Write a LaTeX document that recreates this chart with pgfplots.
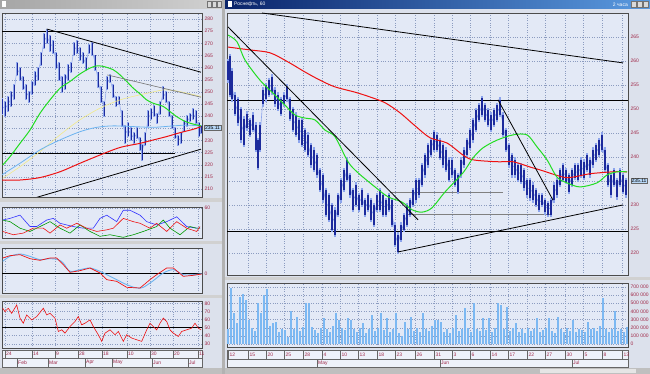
\documentclass[border=0pt]{standalone}
\usepackage{pgfplots}
\pgfplotsset{compat=1.18}
\usepackage{pgfplotstable}
\usepackage{fontspec}
\setmainfont{Liberation Sans}
\definecolor{bgc}{HTML}{E3E9F6}
\definecolor{chrome}{HTML}{DCE1EC}
\definecolor{gridc}{HTML}{8C9CC0}
\definecolor{pricec}{HTML}{1C2A9C}
\definecolor{pricelt}{HTML}{8CA4EC}
\definecolor{lblc}{HTML}{A02848}
\definecolor{grn}{HTML}{22DD22}
\definecolor{redc}{HTML}{EE1111}
\definecolor{volc}{HTML}{7CB8F2}
\definecolor{ltblue}{HTML}{6CB4F0}
\definecolor{yel}{HTML}{F2EA88}
\definecolor{titleA}{HTML}{0A246A}
\definecolor{titleB}{HTML}{5A9AE0}
\definecolor{boxc}{HTML}{B8D8F8}

\pgfplotsset{
  panel/.style={
    scale only axis, anchor=south west, clip=true,
    axis background/.style={fill=bgc},
    axis line style={draw=black!70, line width=0.6pt},
    xticklabels={},
    major tick length=0pt,
    grid=major,
    major grid style={draw=gridc, dotted, line width=0.4pt},
    yticklabel pos=right,
    yticklabel style={font=\fontsize{5}{6}\selectfont, text=lblc, xshift=-1pt},
    /pgf/number format/assume math mode=true,
  },
  ma/.style={line width=1pt, smooth},
  tl/.style={black, line width=0.8pt},
  hl/.style 2 args={draw=none, mark=none, error bars/.cd, y dir=both, y explicit, error mark=none,
    error bar style={line width=#1, draw=#2, solid}},
}

\pgfplotstableread{
x lo hi
228 256 260
230 253 261
232 252 258
235 249 253
238 247 252
241 243.5 250
244 242.5 248
247 246 249
250 244.6 247.7
253 245.6 248.8
256 241.5 246.7
258 237.7 243.5
260 241.5 246.7
263 251 254
266 252 255
269 253 256
272 253.5 256.7
275 251 254
278 250 253
281 249 252
284 251 253
287 252 254.6
290 248 252
293 245.6 250
296 244.6 248.8
299 243.5 247.7
302 242.5 247.7
305 241.5 245.6
308 240.4 244.6
311 238.3 242.5
314 237.3 241.5
317 236.2 240.4
320 233.1 237.3
323 231 236.2
326 227.9 233.1
329 226.9 232
332 224.8 230
335 223.8 229
338 227.9 232
341 231 235.2
344 233.1 237.3
347 235.2 239.4
350 232 236.2
353 229 233.1
356 230 234.2
359 229 232
362 230 233.1
365 227.9 231
368 229 232
371 226.9 231
374 225.9 230
377 229 232
380 229 233.1
383 227.9 232
386 227.9 231
389 229 232
392 225.9 231
395 221.7 225.9
398 220.2 223.8
401 222.7 225.9
404 224.8 227.9
407 225.9 230
410 227.9 231
413 230 233.1
416 231 235.2
419 232 235.2
422 234.2 238.3
425 236.2 240.4
428 238.3 242.5
431 240.4 243.5
434 241.5 245.2
437 241.5 244.6
440 239.8 243.5
443 238.3 242.5
446 237.3 241.5
449 235.2 239.4
452 236.2 239.4
455 234.2 237.3
458 232.7 236.2
461 236.2 239.4
464 238.3 241.5
467 240.4 243.5
470 241.9 245.6
473 243.5 247.7
476 245.6 249.8
479 247.7 250.8
482 248.8 252.3
485 247.7 250.8
488 246.7 249.8
491 245.6 248.8
494 246.7 249.8
497 247.7 250.8
500 248.8 251.9
503 244.6 248.8
506 241.5 245.6
509 238.3 242.5
512 236.2 240.4
515 236.2 239.4
518 235.2 238.3
521 234.8 238.3
524 233.5 237.3
527 232 235.2
530 231.4 235.2
533 231 234.2
536 230 233.1
539 229 232
542 230 232
545 228.5 231
548 227.9 230.4
551 227.9 231
554 231 234.2
557 232 235.2
560 234.2 237.3
563 235.2 238.3
566 234.8 237.3
569 232.7 236.2
572 234.2 237.3
575 235.6 238.3
578 235.2 238.3
581 236.2 239.4
584 235.6 239
587 237.3 240.4
590 236.2 239.4
593 238.3 241.5
596 239.4 242.5
599 240.4 243.5
602 241.5 244.6
605 237.3 241.5
608 234.2 238.3
611 232 236.2
614 234.2 237.3
617 231.6 235.2
620 234.2 237.3
623 232.7 236.2
626 232 235.2
}\rprice

\pgfplotstableread{
x lo hi
2 241 247
5 240 246
8 242 248
11 244 250
14 247 253
17 257 262
20 255 260
23 251 256
26 247 253
29 246 250
32 249 254
35 253 258
38 255 260
41 261 266
44 268 274
47 270 275.6
50 267 273
53 266 271
56 260 266
59 255 262
62 250 256
65 251 257
68 255 261
71 258 262
74 265 270
77 266 271
80 263 268
83 262 266
86 259 264
89 266 269.5
92 265 270
95 259 265
98 252 258
101 246 252
104 240 246
107 251 256
110 254 257
113 248 253
116 244 248
119 245 248
122 236 242
125 229 236
128 232 237
131 230 235
134 229 233
137 231 235
140 226 231
142 222 228
145 228 233
148 236 242
151 239 243
154 240 244
157 237 241
160 241 246
163 247 252
166 246 250
169 240 246
172 235 240
175 231 235
178 228 232
181 229 233
184 234 238
187 236 240
190 238 241
193 239 243
196 237 242
199 232 237
201 233 236
}\lprice

\pgfplotstableread{
x v
228 180
231 684
234 377
237 260
240 580
243 620
246 540
249 295
252 200
255 160
258 500
261 377
264 600
267 670
270 220
273 254
276 270
279 150
282 180
285 170
288 80
291 400
294 190
297 336
300 160
303 210
306 500
309 500
312 210
315 170
318 130
321 200
324 315
327 180
330 150
333 220
336 377
339 295
342 200
345 170
348 315
351 295
354 180
357 150
360 200
363 254
366 130
369 180
372 357
375 160
378 200
381 377
384 170
387 315
390 150
393 190
396 377
399 140
402 100
405 270
408 180
411 336
414 160
417 200
420 150
423 377
426 190
429 160
432 220
435 295
438 295
441 270
444 150
447 180
450 140
453 200
456 357
459 160
462 180
465 438
468 200
471 150
474 500
477 190
480 160
483 315
486 170
489 315
492 150
495 200
498 500
501 480
504 180
507 460
510 160
513 200
516 254
519 150
522 180
525 140
528 200
531 160
534 190
537 315
540 150
543 170
546 200
549 315
552 160
555 140
558 336
561 180
564 150
567 200
570 160
573 295
576 150
579 190
582 170
585 150
588 270
591 180
594 200
597 160
600 220
603 560
606 190
609 150
612 180
615 400
618 160
621 190
624 150
627 210
}\vol

\begin{document}
\begin{tikzpicture}[x=1pt,y=1pt]
\useasboundingbox (0,0) rectangle (650,374);
\fill[chrome] (0,0) rectangle (650,374);
% window separator
\fill[black!30] (222,0) rectangle (225,374);
% title bars
\shade[left color=black!35, right color=black!18] (0,365) rectangle (222,374);
\foreach \b in {207,212,217} {\fill[black!15] (\b,366.5) rectangle (\b+4,372.5); \draw[black!55,line width=0.3pt] (\b,366.5) rectangle (\b+4,372.5);}
\fill[white] (1.5,366.5) rectangle (6,372.5);
\shade[left color=titleA, right color=titleB] (225,365) rectangle (650,374);
\fill[white] (227.5,366.5) rectangle (232,372.5);
\node[anchor=west, text=white, inner sep=0pt, font=\fontsize{5}{6}\selectfont] at (234,369.5) {Роснефть, 60};
\node[anchor=east, text=white, inner sep=0pt, font=\fontsize{5}{6}\selectfont] at (628,369.5) {2 часа};
\foreach \b in {631,637,643} {\fill[black!15] (\b,366.5) rectangle (\b+5,372.5); \draw[black!55,line width=0.3pt] (\b,366.5) rectangle (\b+5,372.5);}
% panel separators
\fill[black!18] (0,172) rectangle (222,176);
\fill[black!18] (0,130) rectangle (222,133);
\fill[black!18] (0,76) rectangle (222,79);
\fill[black!18] (225,94) rectangle (650,97);
% scrollbars
\fill[black!25] (0,0) rectangle (222,6);
\fill[black!25] (225,0) rectangle (650,6);
\fill[black!10] (540,1) rectangle (636,5);

% ===== Left price chart =====
\begin{axis}[panel, at={(2pt,177pt)}, width=200pt, height=184pt,
  xmin=2, xmax=202, ymin=206.7, ymax=282.5,
  xtick={5,32,55,78,102,127,150,173,198}, ytick={210,215,...,280},
  yticklabels={210,215,220,225,230,,240,245,250,255,260,265,270,275,280}]
\addplot[tl] coordinates {(2,275) (202,275)};
\addplot[tl] coordinates {(2,224.5) (175,224.5)};
\addplot[hl={2.4pt}{pricelt}] table[x=x, y expr={(\thisrow{lo}+\thisrow{hi})/2}, y error expr={(\thisrow{hi}-\thisrow{lo})/2+0.4}] {\lprice};
\addplot[pricelt, line width=0.5pt] table[x=x, y expr={(\thisrow{lo}+\thisrow{hi})/2}] {\lprice};
\addplot[hl={1pt}{pricec}] table[x=x, y expr={(\thisrow{lo}+\thisrow{hi})/2}, y error expr={(\thisrow{hi}-\thisrow{lo})/2}] {\lprice};
\addplot[yel, line width=0.6pt, smooth] coordinates {(2.7,214.4) (20,219.2) (40,225.4) (60,232.3) (80,238.5) (100,243.3) (120,246.7) (140,248.8) (153.3,250) (163.3,250.8) (173.3,250.6) (186.7,249.5) (201,248.1)};
\addplot[ltblue, line width=0.8pt, smooth] coordinates {(1.7,215.8) (20,220.6) (40,226.1) (60,230.2) (80,233.6) (96.7,235.4) (113.3,236) (133.3,235.7) (153.3,235.4) (173.3,236) (186.7,236.3) (201,236)};
\addplot[redc, ma] coordinates {(1.7,213.7) (20,213.7) (40,214.7) (60,217.1) (80,220.6) (100,224) (120,227.1) (140,228.8) (153.3,230.2) (166.7,231.6) (180,233.2) (193.3,234.6) (201,235.7)};
\addplot[grn, ma] coordinates {(2.7,219.9) (10,223.3) (20,228.8) (30,234.3) (40,241.2) (50,246.7) (60,251.5) (70,254.3) (80,257.4) (90,259.8) (96.7,260.7) (103.3,260.5) (113.3,259.1) (120,257) (126.7,254.3) (133.3,251.5) (140,249.2) (146.7,246.7) (153.3,245.3) (163.3,244) (170,241.9) (176.7,239.8) (183.3,238.2) (190,237.1) (196.7,236.4) (201,236)};
\addplot[tl] coordinates {(46.7,275.9) (201,258.1)};
\addplot[black!55, line width=0.6pt] coordinates {(107.3,257.0) (201,247.8)};
\addplot[tl] coordinates {(33,206.1) (201,226.4)};
\end{axis}
\node[fill=boxc, draw=black!60, line width=0.3pt, inner sep=0.8pt, font=\fontsize{5}{6}\selectfont] at (212.5,246.3) {235.11};

% ===== Left indicator 1 =====
\begin{axis}[panel, at={(2pt,136pt)}, width=200pt, height=31pt,
  xmin=2, xmax=202, ymin=0, ymax=62, xtick={5,32,55,78,102,127,150,173,198}, ytick={60}, yticklabels={60}]
\addplot[blue!80, line width=0.6pt] coordinates {(2.7,35.9) (10,39.2) (20,45.7) (30,22.9) (36.7,22.9) (46.7,35.9) (53.3,39.2) (60,29.4) (66.7,26.1) (73.3,22.9) (83.3,19.6) (93.3,19.6) (100,39.2) (106.7,45.7) (116.7,32.7) (123.3,55.5) (130,55.5) (140,45.7) (146.7,32.7) (156.7,26.1) (166.7,32.7) (176.7,42.4) (186.7,22.9) (196.7,19.6) (200,19.6)};
\addplot[green!60!black, line width=0.6pt] coordinates {(2.7,35.9) (10,32.7) (20,19.6) (30,13.1) (40,22.9) (50,32.7) (60,19.6) (70,9.8) (80,26.1) (90,13.1) (100,3.3) (110,6.5) (123.3,1.3) (133.3,6.5) (143.3,13.1) (156.7,22.9) (163.3,35.9) (170,19.6) (180,6.5) (190,22.9) (196.7,19.6) (200,19.6)};
\addplot[redc, line width=0.6pt] coordinates {(2.7,13.1) (13.3,6.5) (23.3,9.8) (33.3,19.6) (43.3,19.6) (50,9.8) (60,26.1) (66.7,19.6) (76.7,29.4) (86.7,19.6) (96.7,13.1) (106.7,16.3) (113.3,19.6) (123.3,39.2) (133.3,32.7) (140,29.4) (150,19.6) (156.7,29.4) (166.7,13.1) (176.7,32.7) (186.7,19.6) (196.7,13.1) (200,22.9)};
\end{axis}

% ===== Left indicator 2 =====
\begin{axis}[panel, at={(2pt,81pt)}, width=200pt, height=45pt,
  xmin=2, xmax=202, ymin=-5.8, ymax=7.7, xtick={5,32,55,78,102,127,150,173,198}, ytick={0}]
\addplot[black, line width=0.6pt] coordinates {(2,0) (202,0)};
\addplot[ltblue, line width=0.9pt, smooth] coordinates {(2.7,3.7) (10,5.2) (20,5.9) (30,5.2) (40,4.2) (50,4.5) (58.3,4.2) (63.3,3.2) (70,0.7) (80,1.2) (90,1.7) (100,0.7) (106.7,-0.3) (116.7,-1.8) (126.7,-3.3) (136.7,-4.3) (143.3,-4.1) (153.3,-2.1) (163.3,0.2) (173.3,1.2) (183.3,-0.3) (193.3,-0.3) (201.7,0)};
\addplot[redc, line width=0.7pt] coordinates {(2.7,4.7) (10,5.4) (20,5.7) (30,4.5) (40,4.0) (50,4.7) (56.7,4.7) (63.3,2.7) (70,0.4) (80,0.9) (90,1.7) (100,0.2) (106.7,-1.8) (116.7,-2.3) (126.7,-4.1) (140,-4.3) (150,-1.8) (156.7,-0.3) (166.7,1.7) (173.3,1.7) (183.3,-0.8) (193.3,-0.5) (201.7,-0.1)};
\end{axis}

% ===== Left indicator 3 =====
\begin{axis}[panel, at={(2pt,26pt)}, width=200pt, height=47pt,
  xmin=2, xmax=202, ymin=24.7, ymax=82.9, xtick={5,32,55,78,102,127,150,173,198}, ytick={30,40,...,80}]
\addplot[black, line width=0.6pt] coordinates {(2,50) (202,50)};
\addplot[redc, line width=0.6pt] coordinates {(2.7,73.9) (5,69.8) (8.3,73.9) (11.7,67.7) (16.7,78) (20,61.6) (23.3,55.4) (26.7,65.7) (31.7,59.5) (36.7,63.6) (43.3,73.9) (46.7,65.7) (50,67.7) (55,61.6) (58.3,45.2) (61.7,47.2) (65,43.1) (70,51.3) (75,57.5) (78.3,63.6) (81.7,53.4) (85,55.4) (90,59.5) (93.3,51.3) (98.3,41.1) (101.7,32.9) (105,43.1) (110,47.2) (115,41.1) (118.3,45.2) (123.3,32.9) (126.7,41.1) (131.7,37) (136.7,34.9) (141.7,32.9) (146.7,47.2) (150,55.4) (153.3,51.3) (156.7,47.2) (160,55.4) (163.3,61.6) (166.7,57.5) (170,47.2) (173.3,43.1) (178.3,39) (181.7,45.2) (186.7,47.2) (191.7,49.3) (195,55.4) (198.3,49.3) (201,47.2)};
\end{axis}

% ===== Right price chart =====
\begin{axis}[panel, at={(227pt,99pt)}, width=401pt, height=262pt,
  xmin=227, xmax=628, ymin=215.4, ymax=270,
  xtick={248,266,284,303,322,340,358,377,395,415,434,452,470,490,508,527,545,565,583,602,622},
  ytick={220,225,...,265}, yticklabels={220,225,230,,240,245,250,255,260,265}]
\addplot[tl] coordinates {(227,251.7) (628,251.7)};
\addplot[tl] coordinates {(227,224.4) (628,224.4)};
\addplot[black!50, line width=0.6pt] coordinates {(390,232.7) (503,232.7)};
\addplot[black!50, line width=0.6pt] coordinates {(408,228.1) (550,228.1)};
\addplot[hl={2.8pt}{pricelt}] table[x=x, y expr={(\thisrow{lo}+\thisrow{hi})/2}, y error expr={(\thisrow{hi}-\thisrow{lo})/2+0.5}] {\rprice};
\addplot[pricelt, line width=0.6pt] table[x=x, y expr={(\thisrow{lo}+\thisrow{hi})/2}] {\rprice};
\addplot[hl={1.2pt}{pricec}] table[x=x, y expr={(\thisrow{lo}+\thisrow{hi})/2}, y error expr={(\thisrow{hi}-\thisrow{lo})/2}] {\rprice};
\addplot[redc, ma] coordinates {(228,262.9) (250,262.3) (270,261.7) (288,259.8) (305,257.7) (320,256) (335,254.6) (355,253.5) (370,252.5) (385,251.3) (400,249.2) (415,246.5) (430,244) (447,242.9) (463,240.4) (473,239.4) (497,239) (513,239) (530,237.9) (540,237.3) (563,235.8) (573,235.8) (590,236.5) (613,236.9) (627,236.9)};
\addplot[grn, ma] coordinates {(228,265.4) (237,264) (245,260.2) (260,256) (275,252.9) (285,250.8) (295,248.75) (305,248.1) (315,247.7) (325,245.6) (335,244.2) (348,239) (358,236.7) (375,233.75) (388,231.7) (402,230.6) (412,229) (422,228.5) (432,229.4) (445,232.7) (463,236.7) (473,239.8) (483,241.9) (497,243.5) (513,244.6) (527,244.6) (537,242.1) (547,239.4) (557,235.8) (567,234.6) (580,233.75) (597,234.6) (607,236.25) (617,236.9) (627,236.9)};
\addplot[tl] coordinates {(262,270) (623,259.6)};
\addplot[tl] coordinates {(228,267.1) (418,226.9)};
\addplot[tl] coordinates {(398,220.2) (623,230)};
\addplot[tl] coordinates {(498,251.9) (553,231)};
\end{axis}
\node[fill=boxc, draw=black!60, line width=0.3pt, inner sep=0.8pt, font=\fontsize{5}{6}\selectfont] at (639,193) {235.11};

% ===== Volume =====
\begin{axis}[panel, at={(227pt,27pt)}, width=401pt, height=64pt,
  xmin=227, xmax=628, ymin=-37, ymax=749,
  xtick={248,266,284,303,322,340,358,377,395,415,434,452,470,490,508,527,545,565,583,602,622},
  ytick={0,100,...,700}, yticklabels={0,100 000,200 000,300 000,400 000,500 000,600 000,700 000}]
\addplot[ycomb, volc, line width=2.5pt] table[x=x, y=v] {\vol};
\end{axis}

% ===== Date rows: left =====
\begin{scope}[line width=0.4pt]
\fill[bgc!60!white] (2,7) rectangle (202,24);
\draw[black!60] (2,7) rectangle (202,24);
\draw[black!60] (2,16) -- (202,16);
\foreach \s/\l in {5/24,32/14,55/9,78/28,102/18,127/10,150/30,173/20,198/11} {
  \draw[black!60] (\s,16) -- (\s,24);
  \node[anchor=west, inner sep=0.5pt, text=lblc, font=\fontsize{5}{6}\selectfont] at (\s+0.5,20) {\l};
}
\foreach \s/\l in {17/Feb,48/Mar,85/Apr,112/May,152/Jun,188/Jul} {
  \draw[black!60] (\s,7) -- (\s,16);
  \node[anchor=west, inner sep=0.5pt, text=lblc, font=\fontsize{5}{6}\selectfont] at (\s+0.5,11.5) {\l};
}
% right
\fill[bgc!60!white] (227,7) rectangle (628,24);
\draw[black!60] (227,7) rectangle (628,24);
\draw[black!60] (227,15) -- (628,15);
\foreach \s/\l in {228/12,248/15,266/20,284/25,303/28,322/4,340/10,358/13,377/18,395/23,415/26,434/31,452/3,470/6,490/14,508/17,527/22,545/27,565/30,583/5,602/8,622/13} {
  \draw[black!60] (\s,15) -- (\s,24);
  \node[anchor=west, inner sep=0.5pt, text=lblc, font=\fontsize{5}{6}\selectfont] at (\s+1,19.5) {\l};
}
\foreach \s/\l in {317/May,440/Jun,572/Jul} {
  \draw[black!60] (\s,7) -- (\s,15);
  \node[anchor=west, inner sep=0.5pt, text=lblc, font=\fontsize{5}{6}\selectfont] at (\s+0.5,11) {\l};
}
\end{scope}
\end{tikzpicture}
\end{document}
